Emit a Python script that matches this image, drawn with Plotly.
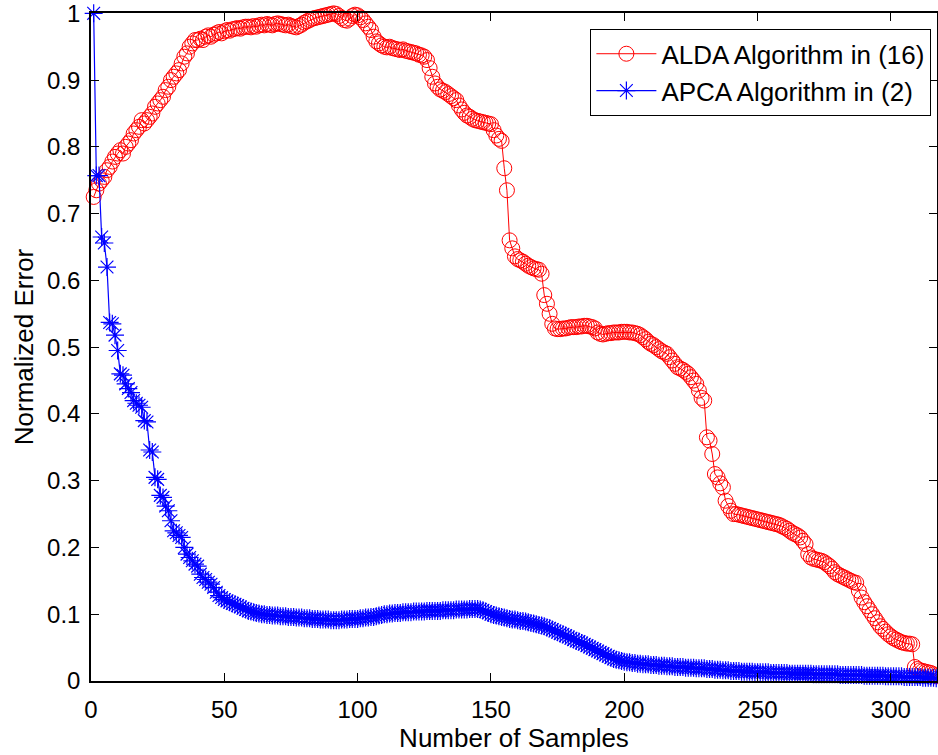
import plotly.graph_objects as go

samples = list(range(1, 319))

alda_error = [
    0.725, 0.735, 0.745, 0.75, 0.755, 0.765, 0.77, 0.778, 0.785, 0.79,
    0.795, 0.79, 0.80, 0.805, 0.81, 0.82, 0.825, 0.83, 0.84, 0.835,
    0.84, 0.845, 0.85, 0.86, 0.865, 0.87, 0.875, 0.885, 0.89, 0.90,
    0.905, 0.91, 0.915, 0.925, 0.935, 0.94, 0.95, 0.955, 0.96, 0.96,
    0.962, 0.96, 0.965, 0.967, 0.965, 0.968, 0.97, 0.972, 0.97, 0.973,
    0.975, 0.974, 0.976, 0.977, 0.978, 0.977, 0.979, 0.98, 0.98, 0.979,
    0.981, 0.98, 0.982, 0.983, 0.982, 0.984, 0.983, 0.982, 0.984, 0.985,
    0.984, 0.983, 0.982, 0.983, 0.981, 0.98, 0.979, 0.981, 0.983, 0.986,
    0.988, 0.99, 0.992, 0.993, 0.994, 0.995, 0.996, 0.997, 0.998, 0.999,
    1.0, 0.999, 0.996, 0.993, 0.99, 0.989, 0.992, 0.996, 0.998, 0.997,
    0.994, 0.99, 0.985, 0.98, 0.975, 0.965, 0.958, 0.955, 0.952, 0.95,
    0.949, 0.95, 0.948, 0.947, 0.946, 0.945, 0.946, 0.944, 0.943, 0.942,
    0.941, 0.94, 0.938, 0.937, 0.935, 0.93, 0.918, 0.905, 0.895, 0.89,
    0.886, 0.884, 0.882, 0.879, 0.876, 0.873, 0.87, 0.862, 0.856, 0.851,
    0.847, 0.845, 0.842, 0.84, 0.839, 0.838, 0.837, 0.836, 0.835, 0.834,
    0.825, 0.817, 0.812, 0.809, 0.768, 0.735, 0.66, 0.648, 0.636, 0.632,
    0.63, 0.628, 0.625, 0.622, 0.62, 0.618, 0.617, 0.616, 0.61, 0.578,
    0.565, 0.55, 0.535, 0.528, 0.527, 0.527, 0.528, 0.528, 0.529, 0.53,
    0.53, 0.53, 0.531, 0.531, 0.532, 0.532, 0.531, 0.53, 0.528, 0.522,
    0.52, 0.519, 0.52, 0.521, 0.521, 0.522, 0.522, 0.522, 0.523, 0.523,
    0.523, 0.522, 0.522, 0.521, 0.52, 0.518, 0.515, 0.512, 0.508, 0.505,
    0.503, 0.5, 0.497, 0.494, 0.492, 0.49, 0.485, 0.48, 0.475, 0.47,
    0.468, 0.466, 0.463, 0.46, 0.455, 0.45, 0.445, 0.435, 0.424, 0.42,
    0.365, 0.36, 0.34, 0.31, 0.305, 0.296, 0.29, 0.27, 0.262, 0.255,
    0.25, 0.25, 0.249, 0.248, 0.247, 0.246, 0.245, 0.244, 0.243, 0.242,
    0.241, 0.24, 0.239, 0.238, 0.237, 0.236, 0.235, 0.234, 0.232, 0.23,
    0.228, 0.225, 0.222, 0.22, 0.218, 0.215, 0.21, 0.205, 0.19, 0.185,
    0.183, 0.182, 0.181, 0.18, 0.178, 0.175, 0.172, 0.168, 0.163, 0.16,
    0.158, 0.156, 0.154, 0.152, 0.15, 0.148, 0.147, 0.135, 0.125, 0.118,
    0.112, 0.106, 0.1, 0.094, 0.088, 0.082, 0.078, 0.074, 0.07, 0.067,
    0.064, 0.062, 0.06, 0.058, 0.057, 0.056, 0.056, 0.055, 0.021, 0.018,
    0.016, 0.015, 0.014, 0.013, 0.012, 0.01, 0.007, 0.005,
]

apca_error = [
    1.0, 0.757, 0.757, 0.665, 0.656, 0.62, 0.537, 0.535, 0.518, 0.495,
    0.46, 0.458, 0.445, 0.438, 0.432, 0.42, 0.416, 0.413, 0.41, 0.39,
    0.388, 0.346, 0.343, 0.305, 0.302, 0.278, 0.275, 0.262, 0.255, 0.24,
    0.225, 0.222, 0.218, 0.215, 0.2, 0.19, 0.185, 0.18, 0.175, 0.172,
    0.16, 0.155, 0.152, 0.148, 0.145, 0.14, 0.133, 0.128, 0.125, 0.122,
    0.12, 0.118, 0.116, 0.115, 0.113, 0.111, 0.109, 0.107, 0.105, 0.104,
    0.103, 0.102, 0.101, 0.1, 0.1, 0.099, 0.099, 0.098, 0.098, 0.098,
    0.097, 0.097, 0.097, 0.096, 0.096, 0.096, 0.095, 0.095, 0.095, 0.094,
    0.094, 0.094, 0.093, 0.093, 0.093, 0.092, 0.092, 0.092, 0.092, 0.091,
    0.091, 0.091, 0.091, 0.092, 0.092, 0.092, 0.093, 0.093, 0.093, 0.093,
    0.094, 0.094, 0.095, 0.095, 0.096, 0.096, 0.097, 0.098, 0.099, 0.1,
    0.1, 0.101, 0.101, 0.102, 0.102, 0.102, 0.103, 0.103, 0.103, 0.103,
    0.104, 0.104, 0.104, 0.104, 0.104, 0.105, 0.105, 0.105, 0.105, 0.105,
    0.105, 0.106, 0.106, 0.106, 0.106, 0.106, 0.107, 0.107, 0.107, 0.107,
    0.107, 0.108, 0.108, 0.108, 0.108, 0.107, 0.106, 0.104, 0.102, 0.1,
    0.099, 0.098, 0.097, 0.096, 0.095, 0.094, 0.093, 0.092, 0.092, 0.091,
    0.09, 0.09, 0.089, 0.088, 0.087, 0.086, 0.085, 0.084, 0.083, 0.082,
    0.08, 0.079, 0.077, 0.075, 0.073, 0.071, 0.07, 0.068, 0.066, 0.064,
    0.062, 0.06, 0.059, 0.057, 0.055, 0.053, 0.051, 0.049, 0.047, 0.045,
    0.043, 0.041, 0.039, 0.037, 0.035, 0.033, 0.032, 0.031, 0.03, 0.029,
    0.028, 0.028, 0.027, 0.027, 0.026, 0.026, 0.025, 0.025, 0.025, 0.024,
    0.024, 0.024, 0.023, 0.023, 0.023, 0.022, 0.022, 0.022, 0.021, 0.021,
    0.021, 0.021, 0.02, 0.02, 0.02, 0.02, 0.019, 0.019, 0.019, 0.019,
    0.018, 0.018, 0.018, 0.017, 0.017, 0.017, 0.016, 0.016, 0.016, 0.015,
    0.015, 0.015, 0.015, 0.014, 0.014, 0.014, 0.014, 0.014, 0.013, 0.013,
    0.013, 0.013, 0.013, 0.013, 0.012, 0.012, 0.012, 0.012, 0.012, 0.012,
    0.012, 0.011, 0.011, 0.011, 0.011, 0.011, 0.011, 0.011, 0.011, 0.011,
    0.01, 0.01, 0.01, 0.01, 0.01, 0.01, 0.01, 0.01, 0.01, 0.01,
    0.009, 0.009, 0.009, 0.009, 0.009, 0.009, 0.009, 0.009, 0.009, 0.008,
    0.008, 0.008, 0.008, 0.008, 0.008, 0.008, 0.008, 0.007, 0.007, 0.007,
    0.007, 0.007, 0.007, 0.007, 0.006, 0.006, 0.006, 0.006, 0.006, 0.006,
    0.006, 0.005, 0.005, 0.005, 0.005, 0.005, 0.004, 0.004,
]

x_ticks = [0, 50, 100, 150, 200, 250, 300]
y_ticks = [0, 0.1, 0.2, 0.3, 0.4, 0.5, 0.6, 0.7, 0.8, 0.9, 1]
y_tick_text = ["0", "0.1", "0.2", "0.3", "0.4", "0.5", "0.6", "0.7", "0.8", "0.9", "1"]

FONT = "Liberation Sans, Arial, Helvetica, sans-serif"
FS = 24

fig = go.Figure()
fig.add_trace(go.Scatter(
    x=samples, y=alda_error, mode="lines+markers",
    name="ALDA Algorithm in (16)", cliponaxis=False,
    line=dict(color="#ff0000", width=1),
    marker=dict(symbol="circle-open", size=15, color="#ff0000", line=dict(width=1)),
))
fig.add_trace(go.Scatter(
    x=samples, y=apca_error, mode="lines+markers",
    name="APCA Algorithm in (2)", cliponaxis=False,
    line=dict(color="#0000ff", width=1.2),
    marker=dict(symbol="asterisk-open", size=15, color="#0000ff", line=dict(width=1.2, color="#0000ff")),
))

axis_common = dict(
    showline=True, linecolor="black", linewidth=1.5, mirror="ticks",
    ticks="inside", ticklen=8, tickwidth=1, tickcolor="black",
    showgrid=False, zeroline=False, ticklabeloverflow="allow",
    automargin=False,
    tickfont=dict(family=FONT, size=FS, color="black"),
)

fig.update_layout(
    width=938, height=755,
    margin=dict(l=91, r=1, t=13, b=74),
    paper_bgcolor="white", plot_bgcolor="white",
    font=dict(family=FONT, size=FS, color="black"),
    showlegend=True,
    legend=dict(
        x=0.993, y=0.976, xanchor="right", yanchor="top",
        bgcolor="white", bordercolor="black", borderwidth=1.3,
        font=dict(family=FONT, size=26, color="black"),
        tracegroupgap=0, itemwidth=60,
    ),
    xaxis=dict(
        range=[0, 317.3], tickvals=x_ticks, ticktext=[str(v) for v in x_ticks],
        ticklabelstandoff=6,
        title=dict(text="Number of Samples", font=dict(family=FONT, size=26), standoff=0),
        **axis_common,
    ),
    yaxis=dict(
        range=[0, 1.0005], tickvals=y_ticks, ticktext=y_tick_text,
        ticklabelstandoff=4,
        title=dict(text="Normalized Error", font=dict(family=FONT, size=26), standoff=6),
        **axis_common,
    ),
)

fig.write_html("out.html")
